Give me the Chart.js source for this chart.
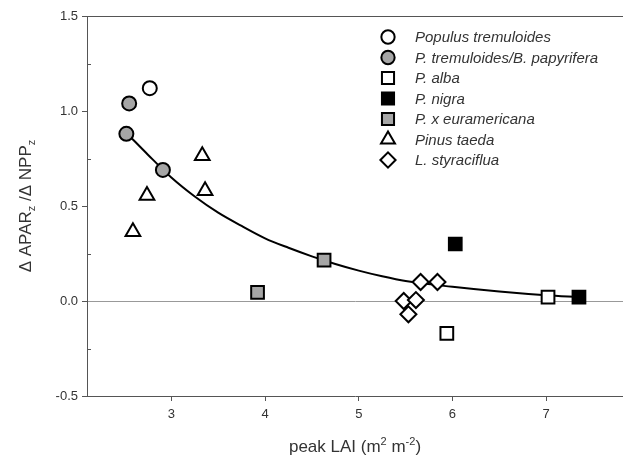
<!DOCTYPE html>
<html lang="en">

<head>
    <meta charset="UTF-8">
    <title>APAR / NPP vs peak LAI</title>
    <script src="https://cdn.jsdelivr.net/npm/chart.js"></script>
    <style>
        body { margin: 0; background: #fff; }
        #box { width: 623px; height: 462px; position: relative; }
    </style>
</head>

<body>
    <div id="box">
        <canvas id="canvasLai"></canvas>
    </div>

<script>
    // valores
    const popTremX = [2.77];
    const popTremY = [1.12];
    const tremBirchX = [2.55, 2.52, 2.91];
    const tremBirchY = [1.04, 0.88, 0.69];
    const albaX = [5.94, 7.02];
    const albaY = [-0.17, 0.02];
    const nigraX = [6.03, 7.35];
    const nigraY = [0.30, 0.02];
    const euramX = [3.92, 4.63];
    const euramY = [0.045, 0.215];
    const taedaX = [3.33, 3.36, 2.74, 2.59];
    const taedaY = [0.765, 0.58, 0.555, 0.365];
    const styraX = [5.66, 5.84, 5.48, 5.61, 5.53];
    const styraY = [0.10, 0.10, 0.0, 0.005, -0.07];

    // curva ajustada
    const curveX = [2.55, 2.75, 3.0, 3.25, 3.5, 3.75, 4.0, 4.25, 4.5, 4.75, 5.0, 5.25, 5.5, 6.0, 6.5, 7.0, 7.35];
    const curveY = [0.87, 0.77, 0.65, 0.55, 0.465, 0.395, 0.33, 0.28, 0.235, 0.195, 0.16, 0.13, 0.105, 0.075, 0.05, 0.03, 0.02];

    const xTicks = [3, 4, 5, 6, 7];
    const yTicks = [-0.5, 0, 0.5, 1.0, 1.5];
    const yMinorTicks = [-0.25, 0.25, 0.75, 1.25];

    const GRAY = '#a6a6a6';
    const FONT = 'Liberation Sans, Arial, sans-serif';

    function pts(xs, ys) {
        return xs.map((x, i) => ({ x: x, y: ys[i] }));
    }

    function serie(label, xs, ys, style, fill, radius) {
        return {
            label: label,
            data: pts(xs, ys),
            pointStyle: style,
            pointRadius: radius,
            pointHoverRadius: radius,
            pointBackgroundColor: fill,
            pointBorderColor: '#000',
            pointBorderWidth: 2,
            showLine: false,
            order: 0
        };
    }

    const series = [
        serie('Populus tremuloides', popTremX, popTremY, 'circle', '#fff', 7),
        serie('P. tremuloides/B. papyrifera', tremBirchX, tremBirchY, 'circle', GRAY, 7),
        serie('P. alba', albaX, albaY, 'rect', '#fff', 9),
        serie('P. nigra', nigraX, nigraY, 'rect', '#000', 9),
        serie('P. x euramericana', euramX, euramY, 'rect', GRAY, 9),
        serie('Pinus taeda', taedaX, taedaY, 'triangle', '#fff', 8.5),
        serie('L. styraciflua', styraX, styraY, 'rectRot', '#fff', 8)
    ];

    const curva = {
        label: 'ajuste',
        type: 'line',
        data: pts(curveX, curveY),
        borderColor: '#000',
        borderWidth: 2,
        pointRadius: 0,
        cubicInterpolationMode: 'monotone',
        fill: false,
        order: 10
    };

    // desenha moldura de cima, títulos com sub/sobrescrito e legenda
    const extras = {
        id: 'extras',
        afterDraw(chart) {
            const ctx = chart.ctx;
            const a = chart.chartArea;
            const ys = chart.scales.y;
            ctx.save();

            // linha de cima
            ctx.strokeStyle = '#555';
            ctx.lineWidth = 1;
            ctx.beginPath();
            ctx.moveTo(a.left, a.top + 0.5);
            ctx.lineTo(a.right, a.top + 0.5);
            ctx.stroke();

            // ticks menores do eixo y
            yMinorTicks.forEach(v => {
                const py = Math.round(ys.getPixelForValue(v)) + 0.5;
                ctx.beginPath();
                ctx.moveTo(a.left, py);
                ctx.lineTo(a.left + 4, py);
                ctx.stroke();
            });

            ctx.fillStyle = '#333';
            ctx.textBaseline = 'alphabetic';

            // título do eixo x
            const big = '17px ' + FONT, small = '11px ' + FONT;
            const partsX = [['peak LAI (m', big, 0], ['2', small, -7], [' m', big, 0], ['-2', small, -7], [')', big, 0]];
            let total = 0;
            partsX.forEach(p => { ctx.font = p[1]; total += ctx.measureText(p[0]).width; });
            let cx = (a.left + a.right) / 2 - total / 2;
            partsX.forEach(p => {
                ctx.font = p[1];
                ctx.fillText(p[0], cx, 452 + p[2]);
                cx += ctx.measureText(p[0]).width;
            });

            // título do eixo y
            const partsY = [['\u0394 APAR', big, 0], ['z', small, 4], [' /\u0394 NPP', big, 0], ['z', small, 4]];
            total = 0;
            partsY.forEach(p => { ctx.font = p[1]; total += ctx.measureText(p[0]).width; });
            ctx.translate(31, (a.top + a.bottom) / 2);
            ctx.rotate(-Math.PI / 2);
            cx = -total / 2;
            partsY.forEach(p => {
                ctx.font = p[1];
                ctx.fillText(p[0], cx, p[2]);
                cx += ctx.measureText(p[0]).width;
            });
            ctx.setTransform(1, 0, 0, 1, 0, 0);
            ctx.scale(chart.currentDevicePixelRatio, chart.currentDevicePixelRatio);

            // legenda
            ctx.font = 'italic 15px ' + FONT;
            ctx.textBaseline = 'middle';
            series.forEach((ds, i) => {
                const ly = 37 + i * 20.5;
                ctx.fillStyle = ds.pointBackgroundColor;
                ctx.strokeStyle = '#000';
                ctx.lineWidth = 2;
                Chart.helpers.drawPoint(ctx, {
                    pointStyle: ds.pointStyle,
                    radius: ds.pointRadius * 0.95,
                    borderWidth: 2,
                    rotation: 0
                }, 388, ly);
                ctx.fillStyle = '#333';
                ctx.fillText(ds.label, 415, ly + 1);
            });

            ctx.restore();
        }
    };

    const configLai = {
        type: 'scatter',
        data: {
            datasets: series.concat([curva])
        },
        plugins: [extras],
        options: {
            responsive: true,
            maintainAspectRatio: false,
            animation: false,
            layout: {
                autoPadding: false,
                padding: { top: 16, right: 0, left: 0, bottom: 0 }
            },
            plugins: {
                legend: { display: false },
                tooltip: { enabled: false }
            },
            scales: {
                x: {
                    type: 'linear',
                    min: 2.1,
                    max: 7.82,
                    afterBuildTicks: s => { s.ticks = xTicks.map(v => ({ value: v })); },
                    afterFit: s => { s.height = 66; },
                    border: { color: '#555', width: 1 },
                    grid: { drawOnChartArea: false, tickLength: 5, tickColor: '#555' },
                    ticks: {
                        color: '#333',
                        padding: 6,
                        maxRotation: 0,
                        font: { size: 13, family: FONT }
                    }
                },
                y: {
                    type: 'linear',
                    min: -0.5,
                    max: 1.5,
                    afterBuildTicks: s => { s.ticks = yTicks.map(v => ({ value: v })); },
                    afterFit: s => { s.width = 87; },
                    border: { color: '#555', width: 1 },
                    grid: {
                        color: c => (c.tick && c.tick.value === 0) ? '#999' : 'rgba(0,0,0,0)',
                        tickColor: '#555',
                        tickLength: 5
                    },
                    ticks: {
                        color: '#333',
                        padding: 4,
                        font: { size: 13, family: FONT },
                        callback: v => v.toFixed(1)
                    }
                }
            }
        }
    };

    const GraficoLai = new Chart(
        document.getElementById('canvasLai'),
        configLai
    );
</script>
</body>

</html>
